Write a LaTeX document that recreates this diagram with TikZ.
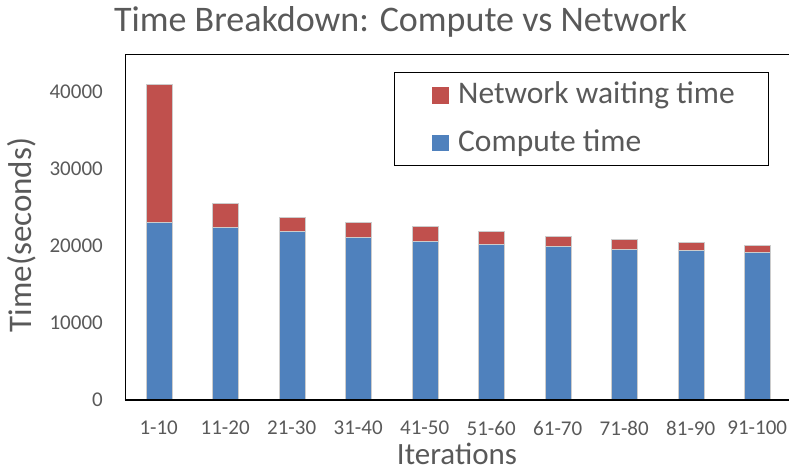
\documentclass[tikz,border=0pt]{standalone}
\usepackage{fontspec}
\setmainfont{Carlito}
\definecolor{netred}{HTML}{C0504D}
\definecolor{compblue}{HTML}{4F81BD}
\definecolor{txtgray}{HTML}{595959}
\tikzset{
  barpart/.style={draw=white!80!black, line width=0.4pt},
  ticklabel/.style={text=txtgray, font=\fontsize{21}{24}\selectfont, inner sep=0pt},
  axistitle/.style={text=txtgray, inner sep=0pt},
  legendtext/.style={text=txtgray, font=\fontsize{31.5}{36}\selectfont, inner sep=0pt, anchor=west},
}
\begin{document}
\begin{tikzpicture}[x=1pt,y=1pt]
\useasboundingbox (0,0) rectangle (789,470);
% title
\node[text=txtgray, font=\fontsize{36}{41}\selectfont, inner sep=0pt, anchor=base] (title) at (400.5,438) {Time Breakdown: Compute vs Network};
% stacked bars (values in thousands of seconds): compute time, then network waiting time on top
\foreach \i/\comp/\tot/\lab in {0/23.15/40.95/1-10, 1/22.38/25.55/11-20, 2/21.86/23.80/21-30,
  3/21.13/23.07/31-40, 4/20.61/22.56/41-50, 5/20.26/21.91/51-60, 6/19.96/21.21/61-70,
  7/19.57/20.87/71-80, 8/19.39/20.52/81-90, 9/19.22/20.04/91-100} {
  \pgfmathsetmacro{\cx}{158.7+66.5*\i}
  \pgfmathsetmacro{\yc}{70+7.7*\comp}
  \pgfmathsetmacro{\yt}{70+7.7*\tot}
  \fill[compblue] (\cx-13,70) rectangle (\cx+13,\yc);
  \fill[netred] (\cx-13,\yc) rectangle (\cx+13,\yt);
  \draw[barpart] (\cx-13,70) rectangle (\cx+13,\yc);
  \draw[barpart] (\cx-13,\yc) rectangle (\cx+13,\yt);
  \node[ticklabel] (cat\i) at (\cx,42) {\lab};
}
% plot frame (runs off the right edge)
\draw[black, line width=1pt] (789,415) -- (125,415) -- (125,70);
\draw[black, line width=1.3pt] (124.5,70) -- (789,70);
% value axis labels
\foreach \k/\v in {0/0,1/10000,2/20000,3/30000,4/40000} {
  \node[ticklabel, anchor=east] (tick\k) at (103,70+77*\k) {\v};
}
% axis titles
\node[axistitle, font=\fontsize{33}{38}\selectfont, rotate=90] (ytitle) at (22,235) {Time(seconds)};
\node[axistitle, font=\fontsize{31}{36}\selectfont, anchor=base] (xtitle) at (457,5.5) {Iterations};
% legend
\node[draw=black, line width=1pt, minimum width=374pt, minimum height=93pt, inner sep=0pt] (legend) at (581,350.8) {};
\fill[netred] (432,366) rectangle (449,383);
\fill[compblue] (432,319) rectangle (449,335);
\node[legendtext] (lnet) at (458,374.3) {Network waiting time};
\node[legendtext] (lcomp) at (458,327) {Compute time};
\end{tikzpicture}
\end{document}
